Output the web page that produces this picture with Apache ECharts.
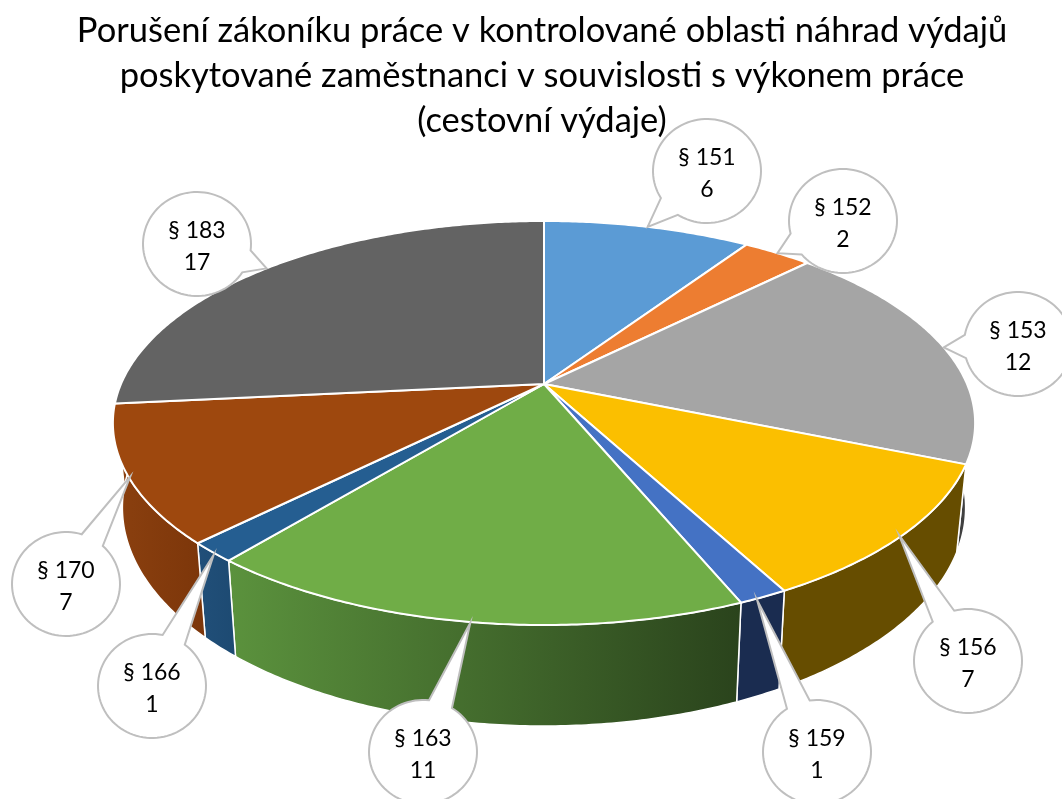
<!DOCTYPE html>
<html><head><meta charset="utf-8">
<style>html,body{margin:0;padding:0;background:#fff}#c{width:1062px;height:799px}</style>
<script src="https://cdn.jsdelivr.net/npm/echarts@6/dist/echarts.min.js"></script>
</head><body><div id="c"></div>
<script>
const titleText = 'Porušení zákoníku práce v kontrolované oblasti náhrad výdajů\nposkytované zaměstnanci v souvislosti s výkonem práce\n(cestovní výdaje)';
const categories = ['§ 151','§ 152','§ 153','§ 156','§ 159','§ 163','§ 166','§ 170','§ 183'];
const counts = [6,2,12,7,1,11,1,7,17];
const topColors = ['#5b9bd5','#ed7d31','#a5a5a5','#fbbf00','#4472c4','#70ad47','#255e91','#9e480e','#636363'];
const wallLeft  = ['#335d80','#8e4b1d','#404040','#664d00','#1a2c50','#5b923d','#214f79','#8b400f','#8b400f'];
const wallRight = ['#335d80','#8e4b1d','#404040','#664d00','#1a2c50','#2a431c','#1d4a72','#7c360a','#8b400f'];
const labelCenters = [[707,171],[843,221],[1018,344],[968,661],[817,752],[423,752],[152,686],[66,584],[197,244]];
const tipNudges = [[0,0],[0,0],[0,0],[-5,1],[-6,3],[3,1],[1,3],[3,2],[0,0]];

// perspective projection of the pie's unit disc
const CX=544, CY=384, K=0.193, BX=423, BY=194.5, DEPTH=81.5, SHRINK=0.978;
const total = counts.reduce((a,b)=>a+b,0);
const cum = counts.reduce((a,v)=>{a.push(a[a.length-1]+v);return a;},[0]);
const ang = v => v/total*2*Math.PI;
function rimTop(t){const X=Math.sin(t),Y=-Math.cos(t),d=1-K*Y;return [CX+BX*X/d,CY+BY*Y/d];}
function rimBottom(t){const X=Math.sin(t),Y=-Math.cos(t),d=1-K*Y;return [CX+SHRINK*BX*X/d,CY+BY*Y/d+DEPTH/d];}
function rimArc(f,a,b){const n=Math.max(4,Math.ceil((b-a)/0.01)),p=[];for(let i=0;i<=n;i++)p.push(f(a+(b-a)*i/n));return p;}

function renderWall(params){
  const i=params.dataIndex,a=ang(cum[i]),b=ang(cum[i+1]);
  const t=rimArc(rimTop,a,b),bo=rimArc(rimBottom,a,b).reverse();
  const pts=t.concat(bo);
  const xs=pts.map(p=>p[0]);
  return {type:'polygon',shape:{points:pts},style:{
    fill:{type:'linear',global:true,x:Math.min(...xs),y:0,x2:Math.max(...xs),y2:0,
      colorStops:[{offset:0,color:wallLeft[i]},{offset:1,color:wallRight[i]}]},
    stroke:'#fff',lineWidth:1.5,lineJoin:'round'}};
}
function renderTop(params){
  const i=params.dataIndex,a=ang(cum[i]),b=ang(cum[i+1]);
  return {type:'polygon',shape:{points:[[CX,CY]].concat(rimArc(rimTop,a,b))},
    style:{fill:topColors[i],stroke:'#fff',lineWidth:2,lineJoin:'round'}};
}
function renderLabel(params){
  const i=params.dataIndex,[cx,cy]=labelCenters[i];
  const rim=rimTop(ang((cum[i]+cum[i+1])/2));
  const tip=[rim[0]+tipNudges[i][0],rim[1]+tipNudges[i][1]];
  const RX=54,RY=52,half=13*Math.PI/180;
  const dir=Math.atan2((tip[1]-cy)/RY,(tip[0]-cx)/RX);
  const pts=[tip];
  const n=90;
  for(let j=0;j<=n;j++){const t=dir+half+(2*Math.PI-2*half)*j/n;pts.push([cx+RX*Math.cos(t),cy+RY*Math.sin(t)]);}
  return {type:'group',children:[
    {type:'polygon',shape:{points:pts},style:{fill:'#fff',stroke:'#bfbfbf',lineWidth:2,lineJoin:'miter'}},
    {type:'text',style:{text:categories[i]+'\n'+counts[i],x:cx,y:cy+3,align:'center',verticalAlign:'middle',
      fontFamily:'Lato',fontSize:23,lineHeight:32,fill:'#000'}}
  ]};
}
const chart=echarts.init(document.getElementById('c'),null,{renderer:'canvas'});
chart.setOption({
  animation:false,backgroundColor:'#fff',
  title:{text:titleText,left:537,top:3,textAlign:'center',z:0,
    textStyle:{fontFamily:'Lato',fontSize:34.5,fontWeight:'normal',color:'#000',lineHeight:45}},
  series:[
    {type:'custom',coordinateSystem:'none',z:2,data:counts,renderItem:renderWall,silent:true},
    {type:'custom',coordinateSystem:'none',z:3,data:counts,renderItem:renderTop,silent:true},
    {type:'custom',coordinateSystem:'none',z:4,data:counts,renderItem:renderLabel,silent:true}
  ]
});
</script></body></html>
